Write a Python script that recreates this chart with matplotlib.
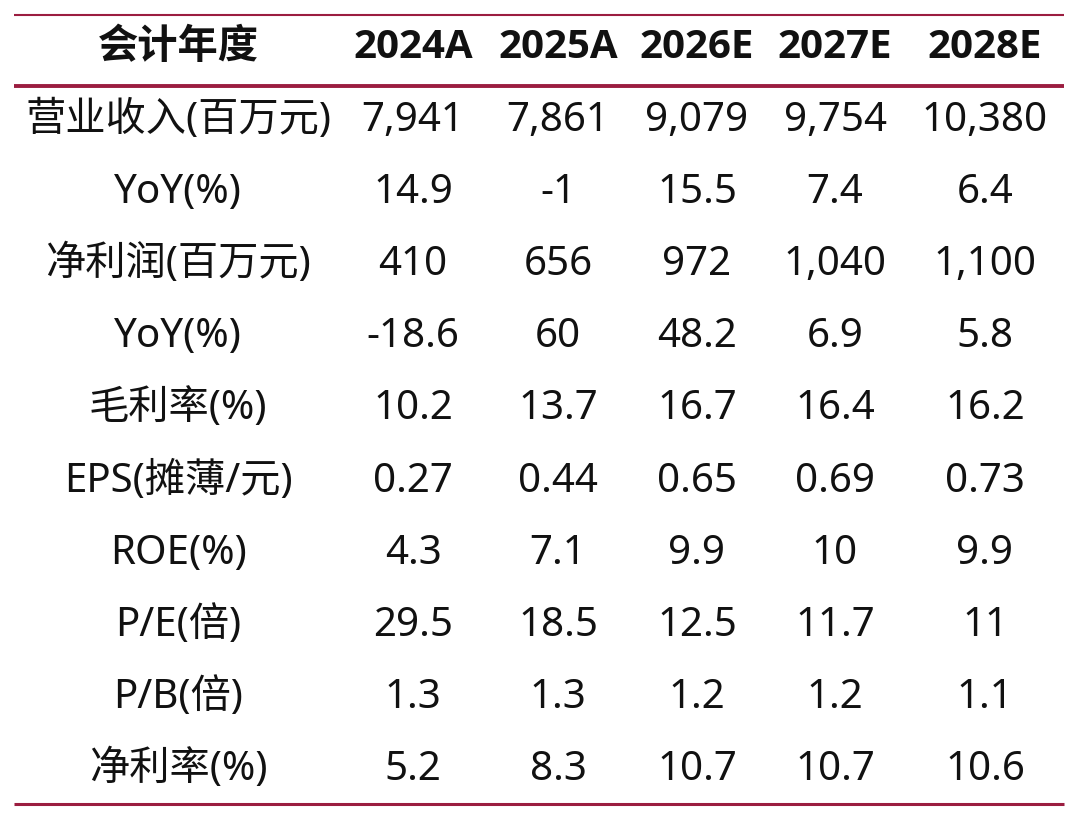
import matplotlib
matplotlib.use("Agg")
from matplotlib import pyplot as plt

plt.rcParams['font.family'] = ['Noto Sans', 'Noto Sans CJK SC', 'DejaVu Sans']

# table contents
header_label = "会计年度"
years = ["2024A", "2025A", "2026E", "2027E", "2028E"]
row_labels = ["营业收入(百万元)", "YoY(%)", "净利润(百万元)", "YoY(%)", "毛利率(%)",
              "EPS(摊薄/元)", "ROE(%)", "P/E(倍)", "P/B(倍)", "净利率(%)"]
revenue = ["7,941", "7,861", "9,079", "9,754", "10,380"]
revenue_yoy = ["14.9", "-1", "15.5", "7.4", "6.4"]
net_profit = ["410", "656", "972", "1,040", "1,100"]
profit_yoy = ["-18.6", "60", "48.2", "6.9", "5.8"]
gross_margin = ["10.2", "13.7", "16.7", "16.4", "16.2"]
eps = ["0.27", "0.44", "0.65", "0.69", "0.73"]
roe = ["4.3", "7.1", "9.9", "10", "9.9"]
pe = ["29.5", "18.5", "12.5", "11.7", "11"]
pb = ["1.3", "1.3", "1.2", "1.2", "1.1"]
net_margin = ["5.2", "8.3", "10.7", "10.7", "10.6"]
rows = [revenue, revenue_yoy, net_profit, profit_yoy, gross_margin,
        eps, roe, pe, pb, net_margin]

W, H = 1080, 821
red = "#9b1d40"
fs = 29
bold_family = ['Open Sans', 'Noto Sans CJK SC', 'DejaVu Sans']

fig = plt.figure(figsize=(W / 100, H / 100), dpi=100)
ax = fig.add_axes([0, 0, 1, 1])
ax.set_xlim(0, W)
ax.set_ylim(H, 0)
ax.axis("off")

label_x = 178
col_x = [413, 558, 697, 835, 985]
header_y = 48
row_y0 = 121
row_step = 72.1

# header
ax.text(label_x, header_y, header_label, ha="center", va="center",
        fontsize=fs, fontweight="bold", color="#111111", family=bold_family)
for x, yr in zip(col_x, years):
    ax.text(x, header_y, yr, ha="center", va="center",
            fontsize=fs, fontweight="bold", color="#111111", family=bold_family)

# body
for i, (lab, vals) in enumerate(zip(row_labels, rows)):
    y = row_y0 + i * row_step
    ax.text(label_x, y, lab, ha="center", va="center", fontsize=fs, color="#111111")
    for x, v in zip(col_x, vals):
        ax.text(x, y, v, ha="center", va="center", fontsize=fs, color="#111111")

# rules
ax.plot([14, 1064], [15, 15], color=red, lw=1.5, solid_capstyle="butt")
ax.plot([14, 1064], [86.5, 86.5], color=red, lw=2.8, solid_capstyle="butt")
ax.plot([14, 1064], [804, 804], color=red, lw=2.2, solid_capstyle="butt")

fig.savefig("out.png", dpi=100, facecolor="white")
